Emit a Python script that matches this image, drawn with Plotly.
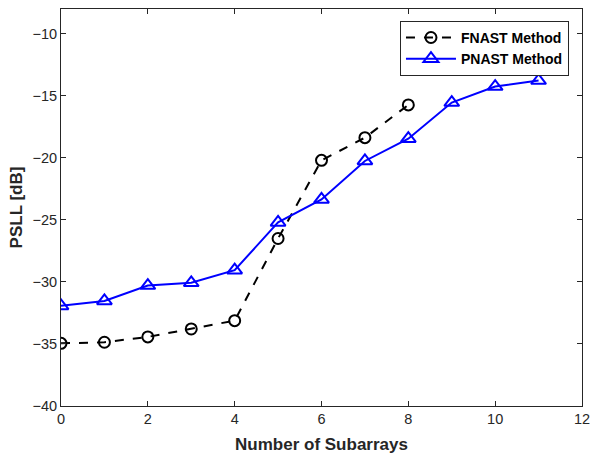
import plotly.graph_objects as go

# Peak sidelobe level versus number of subarrays
fnast_x = [0, 1, 2, 3, 4, 5, 6, 7, 8]
fnast_psll = [-34.95, -34.86, -34.43, -33.79, -33.12, -26.50, -20.20, -18.37, -15.73]

pnast_x = [0, 1, 2, 3, 4, 5, 6, 7, 8, 9, 10, 11]
pnast_psll = [-31.93, -31.53, -30.29, -30.07, -29.05, -25.20, -23.35, -20.25, -18.45, -15.54, -14.25, -13.77]

x_ticks = [0, 2, 4, 6, 8, 10, 12]
y_ticks = [-40, -35, -30, -25, -20, -15, -10]

axis_color = "#262626"
font_family = "Liberation Sans, Arial, sans-serif"

fig = go.Figure()
fig.add_trace(go.Scatter(
    x=fnast_x, y=fnast_psll, mode="lines+markers", name="FNAST Method",
    line=dict(color="black", width=2, dash="dash"),
    marker=dict(symbol="circle-open", size=11, color="black", line=dict(width=2)),
))
fig.add_trace(go.Scatter(
    x=pnast_x, y=pnast_psll, mode="lines+markers", name="PNAST Method",
    line=dict(color="#0000ff", width=2),
    marker=dict(symbol="triangle-up-open", size=13, color="#0000ff", line=dict(width=2)),
))

axis_common = dict(
    showgrid=False, zeroline=False, showline=True, linecolor=axis_color, linewidth=1,
    mirror="ticks", ticks="inside", ticklen=5, tickcolor=axis_color, tickwidth=1,
    tickfont=dict(family=font_family, size=14.5, color=axis_color),
    automargin=False, ticklabeloverflow="allow",
)

fig.update_layout(
    width=590, height=454,
    margin=dict(l=61, r=8, t=9, b=48),
    paper_bgcolor="white", plot_bgcolor="white",
    font=dict(family=font_family, color=axis_color),
    xaxis=dict(range=[0, 12], tickvals=x_ticks,
               title=dict(text="<b>Number of Subarrays</b>", font=dict(size=17, color=axis_color), standoff=11),
               **axis_common),
    yaxis=dict(range=[-40, -8], tickvals=y_ticks,
               title=dict(text="<b>PSLL [dB]</b>", font=dict(size=17, color=axis_color), standoff=5),
               **axis_common),
    legend=dict(x=0.975, y=0.97, xanchor="right", yanchor="top",
                bgcolor="white", bordercolor=axis_color, borderwidth=1,
                font=dict(family=font_family, size=14, color="black", weight="bold"),
                tracegroupgap=0, itemwidth=50),
    showlegend=True,
)

fig.write_html("out.html")
